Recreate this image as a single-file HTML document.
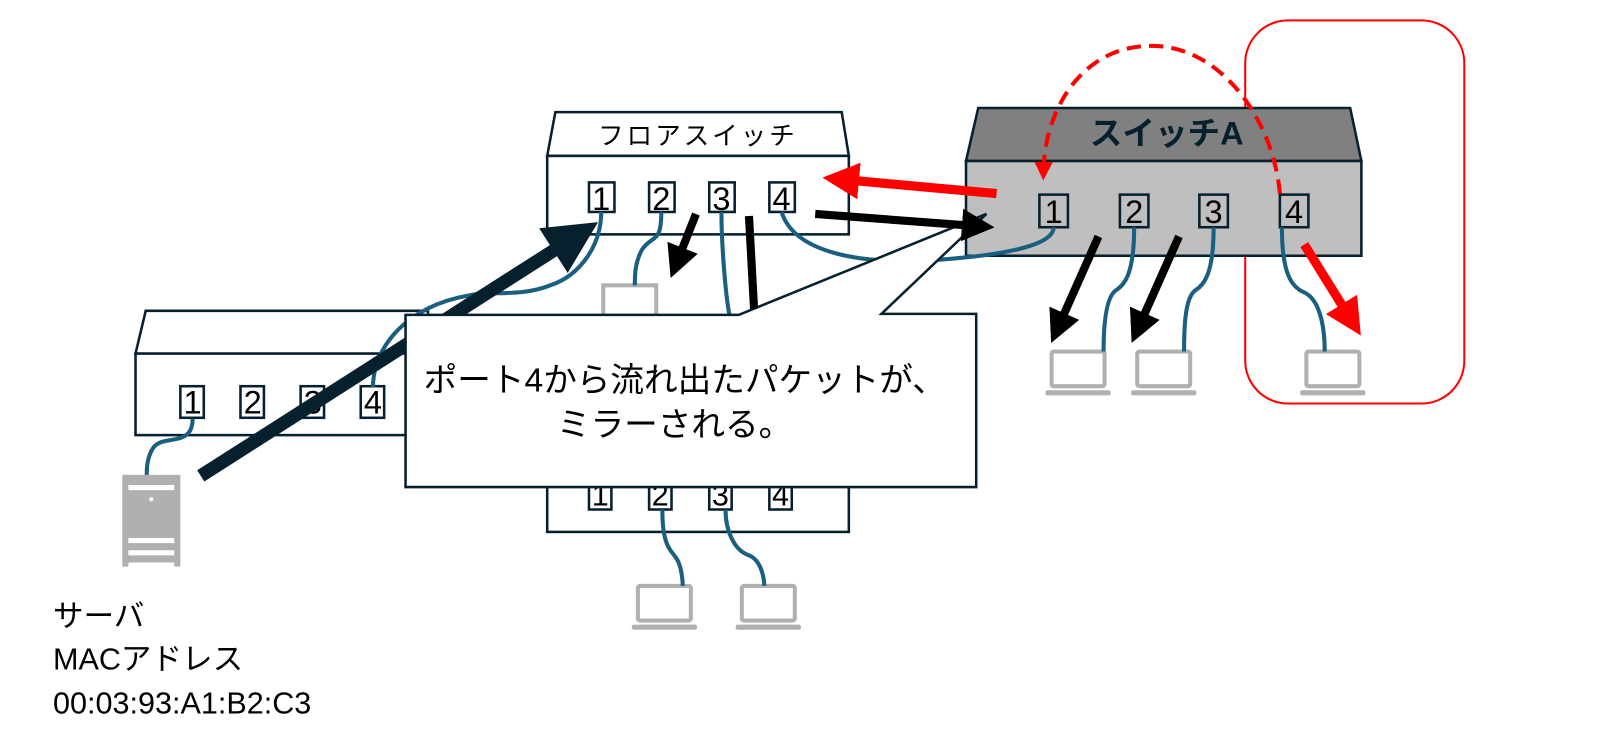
<!DOCTYPE html>
<html><head><meta charset="utf-8"><style>
html,body{margin:0;padding:0;background:#fff;}
svg{display:block;}
text{font-family:"Liberation Sans","Noto Sans CJK JP",sans-serif;}
</style></head><body>
<svg width="1598" height="742" viewBox="0 0 1598 742" xmlns="http://www.w3.org/2000/svg">
<defs>
<marker id="ah" markerWidth="4" markerHeight="4" refX="2" refY="2" orient="auto" markerUnits="strokeWidth"><path d="M0,0 L4,2 L0,4 z" fill="#000"/></marker>
<marker id="ahr" markerWidth="4" markerHeight="4" refX="2" refY="2" orient="auto" markerUnits="strokeWidth"><path d="M0,0 L4,2 L0,4 z" fill="#ff0000"/></marker>
<marker id="ahn" markerWidth="4" markerHeight="4" refX="2" refY="2" orient="auto" markerUnits="strokeWidth"><path d="M0,0 L4,2 L0,4 z" fill="#06202e"/></marker>
<marker id="ahd" markerWidth="18" markerHeight="18" refX="9" refY="9" orient="auto" markerUnits="userSpaceOnUse"><path d="M0,0 L18,9 L0,18 z" fill="#ff0000"/></marker>
<g id="lap"><rect x="2" y="0" width="52" height="34" fill="#fff" stroke="#b0b0b0" stroke-width="4" rx="2"/><rect x="-4" y="38" width="64" height="5" fill="#b0b0b0" rx="2"/></g>
</defs>
<g transform="scale(1.019)">
<rect x="1222" y="20" width="215" height="376" rx="42" fill="none" stroke="#ff0000" stroke-width="2"/>

<polygon points="545,110 826,110 833,153 537,153" fill="#fff" stroke="#06202e" stroke-width="2.5"/>
<rect x="537" y="153" width="296" height="77" fill="#fff" stroke="#06202e" stroke-width="2.5"/>
<text x="685" y="142" font-size="25" text-anchor="middle" letter-spacing="3">フロアスイッチ</text>
<g stroke="#06202e" stroke-width="2.5" fill="#fff">
<rect x="578" y="179" width="25" height="29"/><rect x="637" y="179" width="25" height="29"/><rect x="696" y="179" width="25" height="29"/><rect x="755" y="179" width="25" height="29"/></g>
<g font-size="32" text-anchor="middle"><text x="590" y="206" transform="scale(1,1)">1</text><text x="649" y="206">2</text><text x="708" y="206">3</text><text x="767" y="206">4</text></g>

<polygon points="143,305 420,305 420,347 133,347" fill="#fff" stroke="#06202e" stroke-width="2.5"/>
<rect x="133" y="347" width="290" height="80" fill="#fff" stroke="#06202e" stroke-width="2.5"/>
<g stroke="#06202e" stroke-width="2.5" fill="#fff">
<rect x="177" y="379" width="23" height="31"/><rect x="236" y="379" width="23" height="31"/><rect x="295" y="379" width="23" height="31"/><rect x="354" y="379" width="23" height="31"/></g>
<g font-size="32" text-anchor="middle"><text x="189" y="406">1</text><text x="248" y="406">2</text><text x="307" y="406">3</text><text x="366" y="406">4</text></g>

<rect x="537" y="440" width="296" height="82" fill="#fff" stroke="#06202e" stroke-width="2.5"/>
<g stroke="#06202e" stroke-width="2.5" fill="#fff">
<rect x="578" y="470" width="22" height="30"/><rect x="637" y="470" width="22" height="30"/><rect x="696" y="470" width="22" height="30"/><rect x="755" y="470" width="22" height="30"/></g>
<g font-size="30" text-anchor="middle"><text x="589" y="496">1</text><text x="648" y="496">2</text><text x="707" y="496">3</text><text x="766" y="496">4</text></g>

<polygon points="960,106 1325,106 1336,158 948,158" fill="#808080" stroke="#06202e" stroke-width="2.5"/>
<rect x="948" y="158" width="388" height="93" fill="#bfbfbf" stroke="#06202e" stroke-width="2.5"/>
<text x="1145" y="142" font-size="32" font-weight="bold" text-anchor="middle" fill="#06202e">スイッチA</text>
<g stroke="#06202e" stroke-width="2.5" fill="#bfbfbf">
<rect x="1020" y="191" width="28" height="32"/><rect x="1099" y="191" width="28" height="32"/><rect x="1177" y="191" width="28" height="32"/><rect x="1256" y="191" width="28" height="32"/></g>
<g font-size="32" text-anchor="middle"><text x="1034" y="219">1</text><text x="1113" y="219">2</text><text x="1191" y="219">3</text><text x="1270" y="219">4</text></g>

<use href="#lap" x="1030" y="345"/><use href="#lap" x="1114" y="345"/><use href="#lap" x="1280" y="345"/>
<use href="#lap" x="624" y="575"/><use href="#lap" x="726" y="575"/>
<rect x="592" y="280" width="52" height="30" fill="#fff" stroke="#b0b0b0" stroke-width="4"/>

<rect x="120" y="466" width="57" height="90" fill="#b0b0b0"/>
<g fill="#fff"><rect x="126" y="476" width="45" height="5"/><rect x="126" y="528" width="45" height="5"/><rect x="126" y="540" width="45" height="5"/><rect x="126" y="552" width="45" height="5"/><circle cx="148.5" cy="490" r="2"/></g>

<g fill="none" stroke="#1a5f80" stroke-width="4">
<path d="M189,411 C189,440 160,425 150,440 C144,450 144,460 144,466"/>
<path d="M590,208 C590,240 570,270 540,280 C510,292 480,285 460,290 C400,300 366,340 366,380"/>
<path d="M649,208 C649,240 640,230 630,245 C623,258 623,270 623,280"/>
<path d="M708,208 C708,240 712,290 716,310"/>
<path d="M767,208 C780,250 850,260 920,255 C990,250 1034,240 1034,223"/>
<path d="M1113,223 C1113,270 1103,280 1095,285 C1085,292 1083,320 1083,345"/>
<path d="M1191,223 C1191,270 1181,280 1173,285 C1163,292 1162,320 1162,345"/>
<path d="M1258,223 C1258,270 1268,282 1280,287 C1295,294 1300,320 1300,345"/>
<path d="M650,500 C650,540 660,540 665,550 C670,560 670,575 670,575"/>
<path d="M712,500 C712,520 720,540 735,545 C748,550 750,570 750,575"/>
</g>

<line x1="197" y1="467" x2="565" y2="232" stroke="#06202e" stroke-width="13" marker-end="url(#ahn)"/>

<polygon points="398,309 725,309 968,210 865,308 958,308 958,478 398,478" fill="#fff" stroke="#06202e" stroke-width="2.5"/>
<text x="672" y="384" font-size="33" text-anchor="middle">ポート4から流れ出たパケットが、</text>
<text x="662" y="428" font-size="33" text-anchor="middle">ミラーされる。</text>

<line x1="735" y1="212" x2="740" y2="303" stroke="#000" stroke-width="8"/>
<line x1="683" y1="210" x2="664" y2="258" stroke="#000" stroke-width="8" marker-end="url(#ah)"/>
<line x1="800" y1="210" x2="960" y2="222" stroke="#000" stroke-width="8" marker-end="url(#ah)"/>
<line x1="1078" y1="232" x2="1038" y2="322" stroke="#000" stroke-width="8" marker-end="url(#ah)"/>
<line x1="1157" y1="232" x2="1117" y2="322" stroke="#000" stroke-width="8" marker-end="url(#ah)"/>

<line x1="978" y1="190" x2="825" y2="176" stroke="#ff0000" stroke-width="9" marker-end="url(#ahr)"/>
<line x1="1280" y1="240" x2="1326" y2="314" stroke="#ff0000" stroke-width="9" marker-end="url(#ahr)"/>
<path d="M1256,190 C1250,120 1200,45 1130,45 C1060,45 1025,110 1024,168" fill="none" stroke="#ff0000" stroke-width="4" stroke-dasharray="14,8" marker-end="url(#ahd)"/>

<g font-size="30"><text x="52" y="615">サーバ</text><text x="52" y="657">MACアドレス</text><text x="52" y="700">00:03:93:A1:B2:C3</text></g>
</g>
</svg>
</body></html>
